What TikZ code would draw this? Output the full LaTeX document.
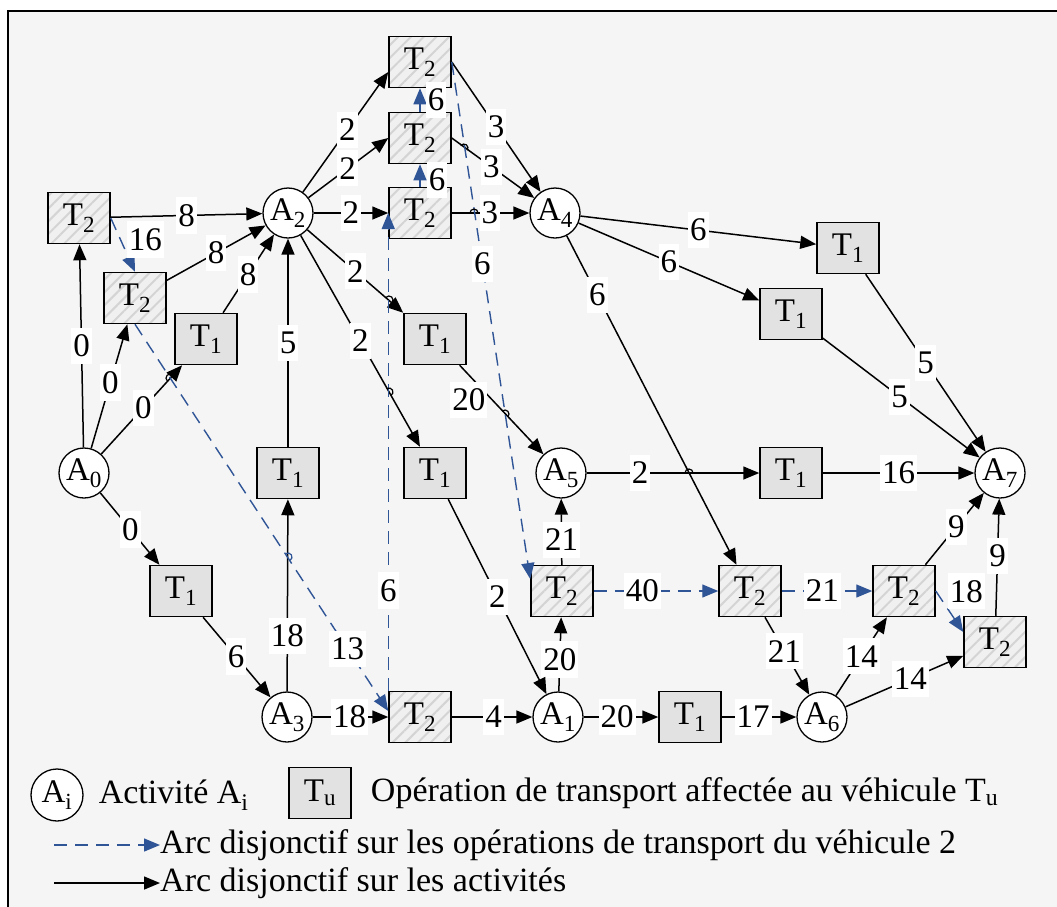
\documentclass[tikz,border=0pt]{standalone}
\usepackage{fontspec}
\setmainfont{Liberation Serif}
\usepackage{tikz}
\usetikzlibrary{arrows.meta,positioning,calc,patterns.meta}
\definecolor{bgpanel}{HTML}{F5F5F5}
\definecolor{vehblue}{HTML}{2F5597}
\definecolor{taskgray}{HTML}{E2E2E2}
\definecolor{hatchfill}{HTML}{F0F0F0}
\definecolor{hatchline}{HTML}{D4D4D4}
\newcommand{\Tn}[1]{T\textsubscript{#1}}
\newcommand{\An}[1]{A\textsubscript{#1}}
% small bump where two arcs cross
\newcommand{\linehop}[3][black]{\draw[#1, line width=1.2pt, shift={(#2)}, rotate=#3]
  (-4pt,0pt) arc[start angle=180, end angle=0, radius=4pt];}

\begin{document}
\begin{tikzpicture}[x=1pt, y=-1pt, >={Triangle[length=16pt,width=13pt]},
  font=\fontsize{33pt}{36pt}\selectfont,
  act/.style={circle, draw, fill=white, minimum size=50pt, inner sep=0pt, line width=1.3pt},
  trans/.style={rectangle, draw, fill=taskgray, minimum width=62pt, minimum height=51pt,
    inner sep=0pt, line width=1.5pt},
  veh/.style={trans, fill=none, preaction={fill=hatchfill},
    preaction={pattern={Lines[angle=45,distance=9pt,line width=2pt]}, pattern color=hatchline}},
  lbl/.style={fill=white, text=black, inner xsep=2pt, inner ysep=7pt},
  legtxt/.style={inner sep=0pt, font=\fontsize{34pt}{38pt}\selectfont},
  arc/.style={->, black, line width=1.5pt},
  disj/.style={->, vehblue, line width=1.4pt, dash pattern=on 13pt off 8pt}]
  \useasboundingbox (0,0) rectangle (1057,906);
  \clip (0,0) rectangle (1057,906);
  \draw[fill=bgpanel, line width=2pt] (8,11) rectangle (1090,940);

  % activities
  \node[act] (A0) at (84,473) {\An0};
  \node[act] (A1) at (558,717) {\An1};
  \node[act] (A2) at (288,213) {\An2};
  \node[act] (A3) at (287,717) {\An3};
  \node[act] (A4) at (555,213) {\An4};
  \node[act] (A5) at (561,473) {\An5};
  \node[act] (A6) at (822,717) {\An6};
  \node[act] (A7) at (1000,473) {\An7};

  % transport operations of vehicle 2
  \node[veh] (v2a) at (79,218) {\Tn2};
  \node[veh] (v2b) at (135,298) {\Tn2};
  \node[veh] (v2c) at (420,62) {\Tn2};
  \node[veh] (v2d) at (420,138) {\Tn2};
  \node[veh] (v2e) at (420,213) {\Tn2};
  \node[veh] (v2f) at (420,717) {\Tn2};
  \node[veh] (v2g) at (562,591) {\Tn2};
  \node[veh] (v2h) at (750,591) {\Tn2};
  \node[veh] (v2i) at (904,591) {\Tn2};
  \node[veh] (v2j) at (995,642) {\Tn2};

  % transport operations of vehicle 1
  \node[trans] (v1a) at (206,339) {\Tn1};
  \node[trans] (v1b) at (181,591) {\Tn1};
  \node[trans] (v1c) at (288,473) {\Tn1};
  \node[trans] (v1d) at (435,339) {\Tn1};
  \node[trans] (v1e) at (435,473) {\Tn1};
  \node[trans] (v1f) at (690,717) {\Tn1};
  \node[trans] (v1g) at (848,248) {\Tn1};
  \node[trans] (v1h) at (791,314) {\Tn1};
  \node[trans] (v1i) at (791,473) {\Tn1};

  % conjunctive / activity arcs
  \foreach \a/\b/\w/\p in {A0/v2a/0/.5, A0/v2b/0/.53, A0/v1a/0/.52, A0/v1b/0/.51,
      v2a/A2/8/.5, v2b/A2/8/.5, v1a/A2/8/.49, v1c/A2/5/.5, A3/v1c/18/.29,
      v1b/A3/6/.49, A3/v2f/18/.49, v2f/A1/4/.52, A1/v2g/20/.43, A1/v1f/20/.45,
      v1f/A6/17/.42, v2h/A6/21/.44, A6/v2i/14/.5, A6/v2j/14/.55, v2i/A7/9/.53,
      v2j/A7/9/.51, v1i/A7/16/.5, A5/v1i/2/.31, v2g/A5/21/.38, A4/v2h/6/.18,
      A4/v1g/6/.5, A4/v1h/6/.5, v1g/A7/5/.5, v1h/A7/5/.49, A2/v2e/2/.5,
      v1e/A1/2/.5, v2e/A4/3/.49}
    \draw[arc] (\a) -- (\b) node[lbl, pos=\p] {\w};
  \draw[arc] (A2) -- ($(v2c.west)+(0,10)$) node[lbl, pos=.52] {2};
  \draw[arc] (A2) -- (v2d.west) node[lbl, pos=.49] {2};
  \draw[arc] (A2) -- (v1d.north west) node[lbl, pos=.5] {2};
  \draw[arc] (A2) -- ($(v1e.north)+(-15,0)$) node[lbl, pos=.5] {2};
  \draw[arc] (v1d) -- (A5) node[lbl, pos=.3, xshift=-16pt, yshift=-8pt] {20};
  \draw[arc] (v2c.east) -- (A4) node[lbl, pos=.5] {3};
  \draw[arc] (v2d.east) -- (A4) node[lbl, pos=.48] {3};

  % disjunctive arcs of vehicle 2
  \draw[disj] (v2a.east) -- (v2b.north) node[lbl, pos=.4, xshift=25pt] {16};
  \draw[disj] (v2b.south) -- ($(v2f.west)+(0,-6)$) node[lbl, pos=.84] {13};
  \draw[disj] (v2f.north west) -- (v2e.west) node[lbl, pos=.21] {6};
  \draw[disj] (v2e.north) -- (v2d.south) node[lbl, pos=.3, xshift=17pt] {6};
  \draw[disj] (v2d.north) -- (v2c.south) node[lbl, pos=.5, xshift=16pt] {6};
  \draw[disj] (v2c.east) -- ($(v2g.west)+(0,-12)$) node[lbl, pos=.39] {6};
  \draw[disj] (v2g) -- (v2h) node[lbl, pos=.39] {40};
  \draw[disj] (v2h) -- (v2i) node[lbl, pos=.45] {21};
  \draw[disj] (v2i.east) -- ($(v2j.west)+(0,-10)$) node[lbl, pos=.2, xshift=25pt, yshift=8pt] {18};

  % crossings
  \linehop{464,148}{-35.8}
  \linehop{474,213}{0}
  \linehop{505,414}{-46.8}
  \linehop{389,300}{-40.8}
  \linehop{389,392}{-60.6}
  \linehop{689,473}{0}
  \linehop{170,378}{47.7}
  \linehop[vehblue]{288,557}{-56.7}

  % legend
  \node[act, minimum size=52pt] (legA) at (57,795) {\An{i}};
  \node[legtxt, right=15pt of legA] (legAt) {Activité \An{i}};
  \node[trans] (legT) at (320,793) {\Tn{u}};
  \node[legtxt, right=19pt of legT] (legTt) {Opération de transport affectée au véhicule \Tn{u}};
  \coordinate (legB0) at (54,845);
  \node[legtxt, anchor=west] (legBt) at (160,845)
    {Arc disjonctif sur les opérations de transport du véhicule 2};
  \draw[disj] (legB0) -- (legBt.west);
  \coordinate (legK0) at (54,883);
  \node[legtxt, anchor=west] (legKt) at (160,883) {Arc disjonctif sur les activités};
  \draw[arc] (legK0) -- (legKt.west);
\end{tikzpicture}
\end{document}
